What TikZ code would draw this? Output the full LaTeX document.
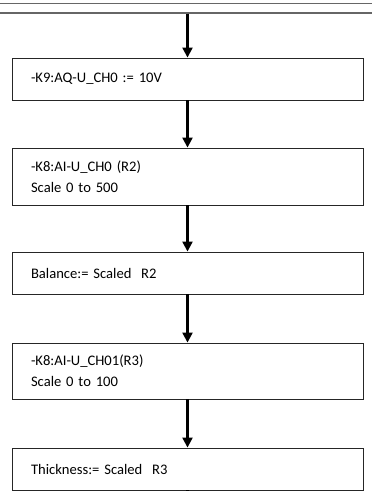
\documentclass[tikz,border=0pt]{standalone}
\usepackage{fontspec}
\setmainfont{Carlito}
\usetikzlibrary{arrows.meta}
\begin{document}
\begin{tikzpicture}[x=1pt,y=-1pt,
  box/.style={draw=black!85, line width=0.9pt, minimum width=351pt, text width=313pt,
    inner xsep=19pt, inner ysep=0pt, align=left, anchor=center,
    font=\fontsize{14.6}{21}\selectfont},
  flow/.style={line width=2.2pt, -{Triangle[width=10pt,length=10pt]}},
  rule/.style={draw=black!60, line width=1.1pt}]
\useasboundingbox (0,0) rectangle (372,491);
\coordinate (l1a) at (0,3.3); \coordinate (l1b) at (372,3.3);
\coordinate (l2a) at (0,13); \coordinate (l2b) at (372,13);
\draw[rule] (l1a) -- (l1b);
\draw[rule] (l2a) -- (l2b);
\node[box, minimum height=42pt] (b1) at (187.5,79) {-K9:AQ-U\_CH0 := 10V};
\node[box, minimum height=57pt] (b2) at (187.5,176.5) {-K8:AI-U\_CH0 (R2)\\Scale 0 to 500};
\node[box, minimum height=42pt] (b3) at (187.5,273) {Balance:= Scaled\ \ R2};
\node[box, minimum height=56pt] (b4) at (187.5,371) {-K8:AI-U\_CH01(R3)\\Scale 0 to 100};
\node[box, minimum height=42pt] (b5) at (187.5,469) {Thickness:= Scaled\ \ R3};
\coordinate (start) at (187.5,13.5);
\coordinate (end) at (187.5,491);
\draw[flow] (start) -- (b1.north);
\draw[flow] (b1.south) -- (b2.north);
\draw[flow] (b2.south) -- (b3.north);
\draw[flow] (b3.south) -- (b4.north);
\draw[flow] (b4.south) -- (b5.north);
\draw[line width=2.2pt] (b5.south) -- (end);
\end{tikzpicture}
\end{document}
